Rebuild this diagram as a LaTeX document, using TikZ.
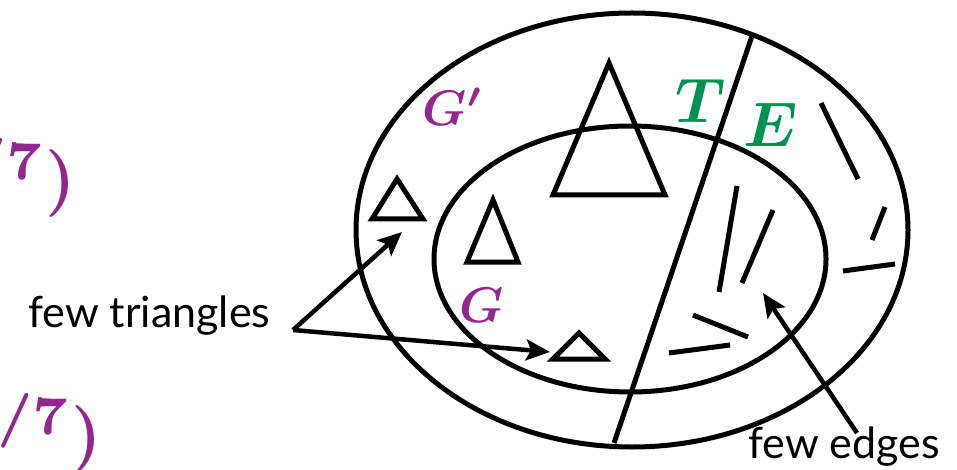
\documentclass[tikz,border=0pt]{standalone}
\usepackage{graphicx}
\usepackage{amsmath,bm}
\usepackage{fontspec}
\setsansfont{Lato}
\usetikzlibrary{arrows.meta}
\definecolor{gpurple}{RGB}{146,39,143}
\definecolor{tgreen}{RGB}{0,146,78}
\newcommand{\supbig}[1]{\raisebox{-0.5pt}{\scalebox{1.15}{$\scriptstyle #1$}}}
\newcommand{\cutmathtop}{\scalebox{6.8}{\boldmath$\mathord{\vphantom{n}}^{\supbig{6/7}}\mathclose{)}$}}
\newcommand{\cutmathbot}{\scalebox{6.8}{\boldmath$\mathord{\vphantom{n}}^{\supbig{9/7}}\mathclose{)}$}}
\newcommand{\glab}[1]{\scalebox{5}{\boldmath$#1$}}
\newcommand{\tlab}[1]{\scalebox{6.3}{\boldmath$#1$}}
\tikzset{
  thick line/.style={line width=5pt, line join=miter},
  tri/.style={thick line},
  seg/.style={line width=5pt},
  pointer/.style={line width=4.5pt, -{Stealth[length=24pt,width=21pt,inset=5pt]}},
  lbl/.style={inner sep=0pt, font=\sffamily\fontsize{43}{50}\selectfont},
  glabel/.style={inner sep=0pt, text=gpurple},
  tlabel/.style={inner sep=0pt, text=tgreen},
  cutmath/.style={inner sep=0pt, text=gpurple}
}
\begin{document}
\begin{tikzpicture}[x=1pt,y=-1pt]
\useasboundingbox (0,0) rectangle (957,470);
\clip (0,0) rectangle (957,470);
\fill[white] (0,0) rectangle (957,470);
\node[cutmath, anchor=base east] (m1) at (76,201) {\cutmathtop};
\node[cutmath, anchor=base east] (m2) at (102,456) {\cutmathbot};
\draw[thick line] (632,230) ellipse [x radius=276pt, y radius=217pt];
\draw[thick line] (630,259) ellipse [x radius=196pt, y radius=133pt];
\coordinate (dtop) at (753,33);
\coordinate (dbot) at (614,443);
\draw[thick line] (dtop) -- (dbot);
\coordinate (t1a) at (609,63); \coordinate (t1b) at (553,195); \coordinate (t1c) at (665,195);
\draw[tri] (t1a) -- (t1b) -- (t1c) -- cycle;
\coordinate (t2a) at (397,179); \coordinate (t2b) at (372,219); \coordinate (t2c) at (423,219);
\draw[tri] (t2a) -- (t2b) -- (t2c) -- cycle;
\coordinate (t3a) at (493,200); \coordinate (t3b) at (467,262); \coordinate (t3c) at (518,262);
\draw[tri] (t3a) -- (t3b) -- (t3c) -- cycle;
\coordinate (t4a) at (579,333); \coordinate (t4b) at (553,359); \coordinate (t4c) at (605,359);
\draw[tri] (t4a) -- (t4b) -- (t4c) -- cycle;
\draw[seg] (737,186) -- (719,292);
\draw[seg] (773,210) -- (742,283);
\draw[seg] (693,315) -- (748,337);
\draw[seg] (669,353) -- (730,345);
\draw[seg] (821,103) -- (858,179);
\draw[seg] (885,207) -- (872,240);
\draw[seg] (843,271) -- (895,264);
\node[glabel] (gp) at (453,107) {\glab{G'}};
\node[glabel] (g) at (482,305) {\glab{G}};
\node[tlabel] (T) at (701,101) {\tlab{T}};
\node[tlabel] (E) at (771,125) {\tlab{E}};
\node[lbl, anchor=base west] (ft) at (28,327) {few triangles};
\node[lbl, anchor=base west] (fe) at (748,458) {few edges};
\coordinate (ftstart) at (293,330);
\coordinate (ftA) at (402,232);
\coordinate (ftB) at (550,352);
\draw[pointer] (ftstart) -- (ftA);
\draw[pointer] (ftstart) -- (ftB);
\coordinate (festart) at (857,433);
\coordinate (feA) at (763,293);
\draw[pointer] (festart) -- (feA);
\end{tikzpicture}
\end{document}
